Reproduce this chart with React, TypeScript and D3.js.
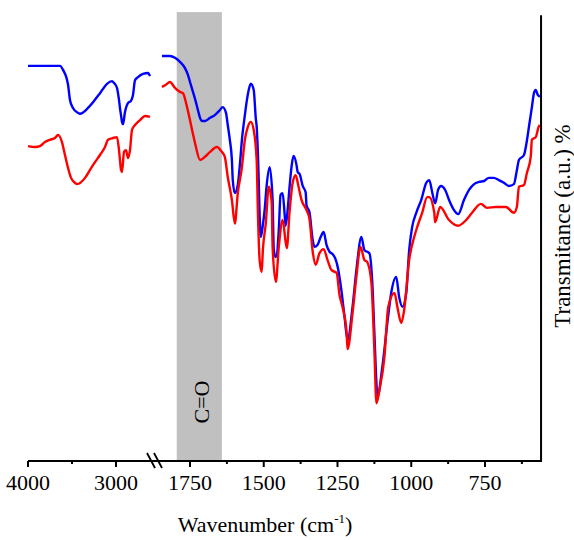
import React from 'react';
import * as d3 from 'd3';

type P = [number, number];

const leftTicks = [4000, 3000];
const leftMinor = [3500];
const rightTicks = [1750, 1500, 1250, 1000, 750];
const rightMinor = [1625, 1375, 1125, 875, 625];

const blueLeft: P[] = [
  [4000, 88.2], [3636, 88.2], [3602, 87.3], [3545, 84.0], [3523, 80.6], [3489, 78.8], [3432, 77.7],
  [3409, 77.5], [3318, 78.8], [3261, 80.1], [3182, 82.1], [3102, 84.2], [3045, 84.8], [3034, 84.6],
  [2989, 83.3], [2966, 80.6], [2955, 78.8], [2943, 77.2], [2932, 75.7], [2920, 75.2], [2898, 77.9],
  [2864, 79.9], [2830, 80.4], [2807, 81.7], [2784, 85.0], [2750, 85.7], [2693, 86.4], [2636, 86.6],
  [2614, 85.9],
];

const redLeft: P[] = [
  [4000, 70.3], [3920, 70.1], [3864, 70.3], [3807, 71.2], [3750, 71.7], [3693, 72.1], [3659, 72.8],
  [3614, 71.2], [3580, 68.3], [3545, 65.4], [3511, 63.2], [3466, 62.1], [3443, 61.8], [3352, 63.2],
  [3295, 65.0], [3239, 66.7], [3182, 68.3], [3125, 70.1], [3091, 71.7], [3034, 72.1], [2989, 72.3],
  [2966, 69.4], [2955, 67.2], [2943, 65.0], [2932, 64.5], [2909, 69.0], [2886, 69.4], [2864, 67.6],
  [2841, 69.4], [2818, 73.9], [2784, 75.0], [2727, 76.1], [2670, 77.0], [2614, 76.8],
];

const blueRight: P[] = [
  [1845, 90.4], [1818, 90.4], [1801, 90.0], [1784, 89.1], [1767, 87.7], [1757, 86.2], [1750, 84.6],
  [1740, 82.4], [1730, 80.1], [1723, 78.3], [1716, 76.6], [1709, 75.9], [1699, 75.9], [1682, 76.6],
  [1666, 77.2], [1649, 78.3], [1639, 79.0], [1628, 77.7], [1622, 75.0], [1615, 71.7], [1608, 67.2],
  [1605, 62.7], [1598, 59.8], [1588, 61.6], [1581, 66.1], [1574, 71.7], [1564, 77.2], [1557, 80.6],
  [1551, 82.8], [1544, 84.2], [1534, 82.8], [1527, 76.5], [1524, 74.6], [1517, 62.7], [1514, 55.0],
  [1510, 50.0], [1503, 52.7], [1497, 56.0], [1490, 61.6], [1480, 65.6], [1470, 58.3], [1466, 47.1],
  [1459, 45.5], [1449, 51.6], [1443, 59.4], [1436, 59.8], [1429, 54.9], [1426, 52.5], [1419, 56.0],
  [1412, 61.6], [1405, 66.1], [1399, 68.1], [1389, 66.1], [1385, 64.5], [1378, 64.0], [1368, 61.4],
  [1358, 60.0], [1355, 57.1], [1345, 55.5], [1334, 49.3], [1328, 47.8], [1318, 48.2], [1307, 50.0],
  [1297, 51.1], [1287, 48.2], [1277, 46.7], [1267, 46.2], [1257, 45.1], [1250, 43.5], [1237, 38.2],
  [1226, 32.1], [1216, 27.0], [1199, 34.4], [1186, 42.6], [1169, 50.0], [1159, 47.1], [1142, 46.4],
  [1132, 39.7], [1125, 28.6], [1118, 17.4], [1115, 14.3], [1098, 21.0], [1081, 30.8], [1068, 37.5],
  [1051, 41.1], [1041, 36.6], [1030, 34.4], [1017, 37.5], [1007, 47.1], [997, 52.2], [983, 55.4],
  [966, 58.3], [949, 62.1], [939, 62.7], [929, 60.0], [919, 57.5], [909, 60.5], [899, 61.4],
  [885, 60.5], [872, 58.3], [855, 56.0], [841, 55.1], [821, 58.3], [804, 60.5], [787, 61.8],
  [770, 62.3], [753, 62.5], [737, 63.2], [720, 63.2], [703, 62.7], [686, 62.1], [669, 61.4],
  [652, 61.8], [642, 64.9], [635, 67.2], [618, 68.3], [608, 71.5], [601, 74.6], [591, 79.0],
  [584, 82.1], [578, 82.8], [571, 81.7], [564, 81.3],
];

const redRight: P[] = [
  [1845, 83.5], [1832, 84.0], [1818, 84.6], [1801, 83.3], [1784, 82.4], [1774, 82.1], [1760, 79.0],
  [1743, 73.9], [1733, 71.0], [1716, 67.2], [1699, 67.9], [1682, 69.0], [1659, 70.1], [1642, 69.0],
  [1632, 67.9], [1622, 63.4], [1608, 58.3], [1598, 53.0], [1588, 59.8], [1574, 65.6], [1564, 71.7],
  [1554, 74.6], [1544, 75.7], [1534, 73.9], [1524, 67.2], [1520, 56.0], [1514, 44.9], [1507, 42.2],
  [1503, 47.1], [1493, 53.1], [1483, 61.2], [1473, 57.6], [1470, 47.8], [1459, 40.0], [1449, 47.8],
  [1436, 53.8], [1422, 47.5], [1412, 56.0], [1402, 62.1], [1392, 63.8], [1382, 61.2], [1372, 58.3],
  [1355, 56.0], [1345, 54.0], [1334, 46.7], [1324, 43.8], [1311, 46.4], [1297, 47.3], [1284, 44.9],
  [1270, 42.6], [1253, 42.0], [1243, 37.0], [1233, 34.4], [1219, 28.6], [1216, 25.0], [1199, 33.0],
  [1186, 41.1], [1172, 47.8], [1159, 44.9], [1149, 44.4], [1135, 39.7], [1125, 24.8], [1118, 12.9],
  [1108, 15.8], [1091, 23.2], [1078, 34.4], [1057, 37.5], [1047, 34.4], [1034, 30.8], [1024, 33.7],
  [1007, 44.9], [990, 50.0], [980, 52.2], [963, 55.4], [946, 58.9], [939, 58.9], [922, 55.4],
  [919, 53.3], [902, 56.7], [872, 53.8], [841, 52.5], [814, 53.8], [794, 55.4], [764, 57.4],
  [743, 56.5], [713, 56.7], [679, 56.7], [652, 55.4], [642, 56.7], [635, 61.2], [618, 61.6],
  [608, 64.3], [595, 67.9], [591, 71.7], [578, 72.3], [568, 74.6], [564, 75.0],
];

const bandRange = [1795, 1642];
const bandLabel = 'C=O';

export default function App() {
  const W = 574;
  const H = 540;
  const xL = d3.scaleLinear().domain([4000, 3000]).range([28, 116]);
  const xR = d3.scaleLinear().domain([1750, 750]).range([190, 485]);
  const y = d3.scaleLinear().domain([0, 100]).range([461, 13]);
  const axisY = y(0);
  const font = '"Liberation Serif", "Times New Roman", serif';

  const mk = (xs: d3.ScaleLinear<number, number>) =>
    d3.line<P>().x(d => xs(d[0])).y(d => y(d[1])).curve(d3.curveMonotoneX);

  const leftLine = mk(xL);
  const rightLine = mk(xR);
  const axisStart = xL(4000);
  const axisEnd = xR(560);
  const brk = 152;

  return (
    <svg width={W} height={H} style={{ position: 'absolute', left: 0, top: 0, background: '#fff' }}>
      <rect x={xR(bandRange[0])} y={y(100.2)} width={xR(bandRange[1]) - xR(bandRange[0])} height={axisY - y(100.2)} fill="#c0c0c0" />
      <text transform={`translate(${xR(1718) + 10},402) rotate(-90)`} textAnchor="middle" fontFamily={font} fontSize={22} fill="#000">{bandLabel}</text>

      <path d={leftLine(blueLeft) || ''} fill="none" stroke="#0000ff" strokeWidth={2.4} strokeLinejoin="round" />
      <path d={rightLine(blueRight) || ''} fill="none" stroke="#0000ff" strokeWidth={2.4} strokeLinejoin="round" />
      <path d={leftLine(redLeft) || ''} fill="none" stroke="#ff0000" strokeWidth={2.4} strokeLinejoin="round" />
      <path d={rightLine(redRight) || ''} fill="none" stroke="#ff0000" strokeWidth={2.4} strokeLinejoin="round" />

      {/* axes */}
      <line x1={axisStart} x2={axisEnd} y1={axisY} y2={axisY} stroke="#000" strokeWidth={2} />
      <line x1={axisEnd} x2={axisEnd} y1={y(99.5)} y2={axisY + 1} stroke="#000" strokeWidth={2} />
      <line x1={brk - 5} y1={axisY - 8} x2={brk + 3} y2={axisY + 7} stroke="#000" strokeWidth={1.8} />
      <line x1={brk + 2} y1={axisY - 8} x2={brk + 10} y2={axisY + 7} stroke="#000" strokeWidth={1.8} />

      {leftTicks.map(t => (
        <g key={'l' + t}>
          <line x1={xL(t)} x2={xL(t)} y1={axisY} y2={axisY + 6} stroke="#000" strokeWidth={2} />
          <text x={xL(t)} y={490} textAnchor="middle" fontFamily={font} fontSize={22}>{t}</text>
        </g>
      ))}
      {leftMinor.map(t => (
        <line key={'lm' + t} x1={xL(t)} x2={xL(t)} y1={axisY} y2={axisY + 3} stroke="#000" strokeWidth={2} />
      ))}
      {rightTicks.map(t => (
        <g key={'r' + t}>
          <line x1={xR(t)} x2={xR(t)} y1={axisY} y2={axisY + 6} stroke="#000" strokeWidth={2} />
          <text x={xR(t)} y={490} textAnchor="middle" fontFamily={font} fontSize={22}>{t}</text>
        </g>
      ))}
      {rightMinor.map(t => (
        <line key={'rm' + t} x1={xR(t)} x2={xR(t)} y1={axisY} y2={axisY + 3} stroke="#000" strokeWidth={2} />
      ))}

      <text x={265} y={532} textAnchor="middle" fontFamily={font} fontSize={22}>
        <tspan>Wavenumber (cm</tspan>
        <tspan fontSize={13} dy={-9}>-1</tspan>
        <tspan dy={9}>)</tspan>
      </text>
      <text transform={`translate(570,226) rotate(-90)`} textAnchor="middle" fontFamily={font} fontSize={23}>
        Transmitance (a.u.) %
      </text>
    </svg>
  );
}
